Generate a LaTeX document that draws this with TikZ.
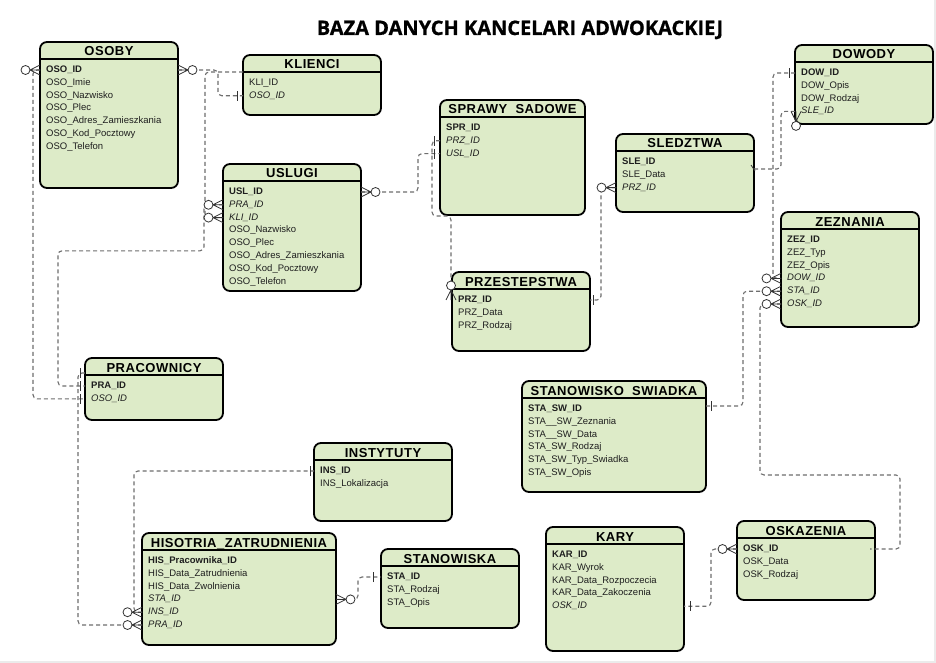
\documentclass[tikz,border=0pt]{standalone}
\usepackage{fontspec}
\setmainfont{Liberation Sans}
\newfontfamily\titlefont{Open Sans}
\newfontfamily\headfont[LetterSpace=4]{Liberation Sans}
\usetikzlibrary{calc}
\definecolor{tblfill}{RGB}{221,235,200}
\definecolor{connc}{RGB}{110,110,110}
\definecolor{rowtext}{RGB}{30,30,30}
\tikzset{
  tblbox/.style={draw=black, line width=1.8pt, rounded corners=7pt, fill=tblfill, inner sep=0pt, outer sep=0pt},
  tbltitle/.style={font=\headfont\fontsize{13}{15}\selectfont\bfseries, inner sep=0pt, anchor=base},
  tblrow/.style={anchor=west, inner sep=0pt, text height=7pt, text depth=2pt, font=\fontsize{9.5}{11}\selectfont, text=rowtext},
  conn/.style={draw=connc, line width=1.1pt, dash pattern=on 4pt off 3pt, rounded corners=4pt},
  sym/.style={draw=black!80, line width=0.8pt},
}
\newcommand{\erbox}[7]{%
  \node[tblbox, minimum width=#4pt, minimum height=#5pt, anchor=north west] (#1) at (#2,#3) {};
  \draw[line width=1.5pt] ($(#1.north west)+(0.5,17)$) -- ($(#1.north east)+(-0.5,17)$);
  \node[tbltitle] (#1-t) at ($(#1.north)+(0,14)$) {#6};
  \foreach \r [count=\i] in {#7} {
    \node[tblrow] (#1-\i) at ($(#1.north west)+(6,15.2+12.8*\i)$) {\r};
  }
}
\newcommand{\manyopt}[2]{\begin{scope}[shift={#1}, rotate=#2]
  \draw[sym] (0,-5) -- (10,0) -- (0,5) (0,0) -- (10,0);
  \draw[sym, fill=white] (14.5,0) circle[radius=4.5];
\end{scope}}
\newcommand{\onebar}[3][6]{\begin{scope}[shift={#2}, rotate=#3]
  \draw[sym] (#1,-5) -- (#1,5);
\end{scope}}
\begin{document}
\begin{tikzpicture}[x=1pt,y=-1pt]
\useasboundingbox (0,0) rectangle (936,663);
\fill[white] (0,0) rectangle (936,663);
\draw[black!8, line width=1.5pt] (935,0) -- (935,663);
\draw[black!8, line width=2pt] (0,662) -- (936,662);

\node[font={\titlefont\fontsize{20}{24}\selectfont\bfseries\addfontfeature{FakeBold=0.8}}, anchor=base, inner sep=0pt] (title) at (520,35) {BAZA DANYCH KANCELARI ADWOKACKIEJ};

\erbox{osoby}{40}{42}{138}{146}{OSOBY}{{\bfseries OSO\_ID},OSO\_Imie,OSO\_Nazwisko,OSO\_Plec,OSO\_Adres\_Zamieszkania,OSO\_Kod\_Pocztowy,OSO\_Telefon}
\erbox{klienci}{243}{55}{138}{60}{KLIENCI}{KLI\_ID,{\itshape OSO\_ID}}
\erbox{usl}{223}{164}{138}{127}{USLUGI}{{\bfseries USL\_ID},{\itshape PRA\_ID},{\itshape KLI\_ID},OSO\_Nazwisko,OSO\_Plec,OSO\_Adres\_Zamieszkania,OSO\_Kod\_Pocztowy,OSO\_Telefon}
\erbox{spr}{440}{100}{145}{115}{SPRAWY\ \ SADOWE}{{\bfseries SPR\_ID},{\itshape PRZ\_ID},{\itshape USL\_ID}}
\erbox{sle}{616}{134}{138}{78}{SLEDZTWA}{{\bfseries SLE\_ID},SLE\_Data,{\itshape PRZ\_ID}}
\erbox{dow}{795}{45}{138}{79}{DOWODY}{{\bfseries DOW\_ID},DOW\_Opis,DOW\_Rodzaj,{\itshape SLE\_ID}}
\erbox{zez}{781}{212}{138}{115}{ZEZNANIA}{{\bfseries ZEZ\_ID},ZEZ\_Typ,ZEZ\_Opis,{\itshape DOW\_ID},{\itshape STA\_ID},{\itshape OSK\_ID}}
\erbox{prz}{452}{272}{138}{79}{PRZESTEPSTWA}{{\bfseries PRZ\_ID},PRZ\_Data,PRZ\_Rodzaj}
\erbox{pra}{85}{358}{138}{62}{PRACOWNICY}{{\bfseries PRA\_ID},{\itshape OSO\_ID}}
\erbox{ssw}{522}{381}{184}{111}{STANOWISKO\ \ SWIADKA}{{\bfseries STA\_SW\_ID},STA\_\_SW\_Zeznania,STA\_\_SW\_Data,STA\_SW\_Rodzaj,STA\_SW\_Typ\_Swiadka,STA\_SW\_Opis}
\erbox{ins}{314}{443}{138}{78}{INSTYTUTY}{{\bfseries INS\_ID},INS\_Lokalizacja}
\erbox{his}{142}{533}{194}{112}{HISOTRIA\_ZATRUDNIENIA}{{\bfseries HIS\_Pracownika\_ID},HIS\_Data\_Zatrudnienia,HIS\_Data\_Zwolnienia,{\itshape STA\_ID},{\itshape INS\_ID},{\itshape PRA\_ID}}
\erbox{stan}{381}{549}{138}{79}{STANOWISKA}{{\bfseries STA\_ID},STA\_Rodzaj,STA\_Opis}
\erbox{kary}{546}{527}{138}{124}{KARY}{{\bfseries KAR\_ID},KAR\_Wyrok,KAR\_Data\_Rozpoczecia,KAR\_Data\_Zakoczenia,{\itshape OSK\_ID}}
\erbox{osk}{737}{521}{138}{79}{OSKAZENIA}{{\bfseries OSK\_ID},OSK\_Data,OSK\_Rodzaj}

% connectors
\draw[conn] (osoby.east |- osoby-1) -- ++(40,0) |- (klienci.west |- klienci-2);
\draw[conn] ($(klienci.north west)+(0,17)$) -- ++(-38,0) |- (usl.west |- usl-3);
\draw[conn] (usl.west |- usl-2) -- ++(-19,0) -- ++(0,46) -| ($(pra.west |- pra-1)+(-27,0)$) -- (pra.west |- pra-1);
\draw[conn] (osoby.west |- osoby-1) -- ++(-7,0) |- (pra.west |- pra-2);
\draw[conn] (his.west |- his-6) -| ($(pra.north west)+(-7,15)$) -- ($(pra.north west)+(0,15)$);
\draw[conn] (his.west |- his-5) -- ++(-8,0) |- (ins.west |- ins-1);
\draw[conn] (his.east |- his-4) -- ++(22,0) |- (stan.west |- stan-1);
\draw[conn] (usl.east |- usl-1) -- ++(57,0) |- (spr.west |- spr-3);
\draw[conn] (spr.west |- spr-2) -- ++(-8,0) |- ($(prz.north west)+(-1,-56)$) -- ($(prz.north west)+(-1,10)$);
\draw[conn] (sle.west |- sle-3) -- ++(-15,0) |- (prz.east |- prz-1);
\draw[conn] (dow.west |- dow-1) -- ++(-22,0) |- (zez.west |- zez-4);
\draw[conn] ($(sle.east |- sle-1)+(0,7)$) -- ++(27,0) |- (dow.west |- dow-4);
\draw[conn] (zez.west |- zez-5) -- ++(-38,0) |- ($(ssw.north east)+(0,25)$);
\draw[conn] (zez.west |- zez-6) -- ++(-21,0) -- ++(0,171) -| ($(osk.east |- osk-1)+(25,0)$) -- ($(osk.east |- osk-1)+(-5,0)$);
\draw[conn] (osk.west |- osk-1) -- ++(-26,0) |- (kary.east |- kary-5);

% end symbols
\manyopt{(osoby.east |- osoby-1)}{0}
\manyopt{(osoby.west |- osoby-1)}{180}
\onebar{(klienci.west |- klienci-2)}{180}
\manyopt{(usl.west |- usl-2)}{180}
\manyopt{(usl.west |- usl-3)}{180}
\manyopt{(usl.east |- usl-1)}{0}
\onebar{(spr.west |- spr-2)}{180}
\onebar{(spr.west |- spr-3)}{180}
\manyopt{($(prz.west |- prz-1)+(-1,0)$)}{90}
\manyopt{(sle.west |- sle-3)}{180}
\onebar[3]{(prz.east |- prz-1)}{0}
\onebar{(dow.west |- dow-1)}{180}
\manyopt{($(dow.west |- dow-4)+(1,0)$)}{-90}
\draw[sym] ($(sle.east |- sle-1)+(-3,3)$) -- ++(4,6);
\manyopt{(zez.west |- zez-4)}{180}
\manyopt{(zez.west |- zez-5)}{180}
\manyopt{(zez.west |- zez-6)}{180}
\onebar[5]{($(ssw.north east)+(0,25)$)}{0}
\manyopt{(osk.west |- osk-1)}{180}
\onebar[6]{(kary.east |- kary-5)}{0}
\onebar[5]{($(pra.north west)+(0,15)$)}{180}
\onebar[5]{(pra.west |- pra-1)}{180}
\onebar[5]{(pra.west |- pra-2)}{180}
\manyopt{(his.west |- his-5)}{180}
\manyopt{(his.west |- his-6)}{180}
\onebar[4]{(ins.west |- ins-1)}{180}
\manyopt{(his.east |- his-4)}{0}
\onebar[8]{(stan.west |- stan-1)}{180}
\end{tikzpicture}
\end{document}
